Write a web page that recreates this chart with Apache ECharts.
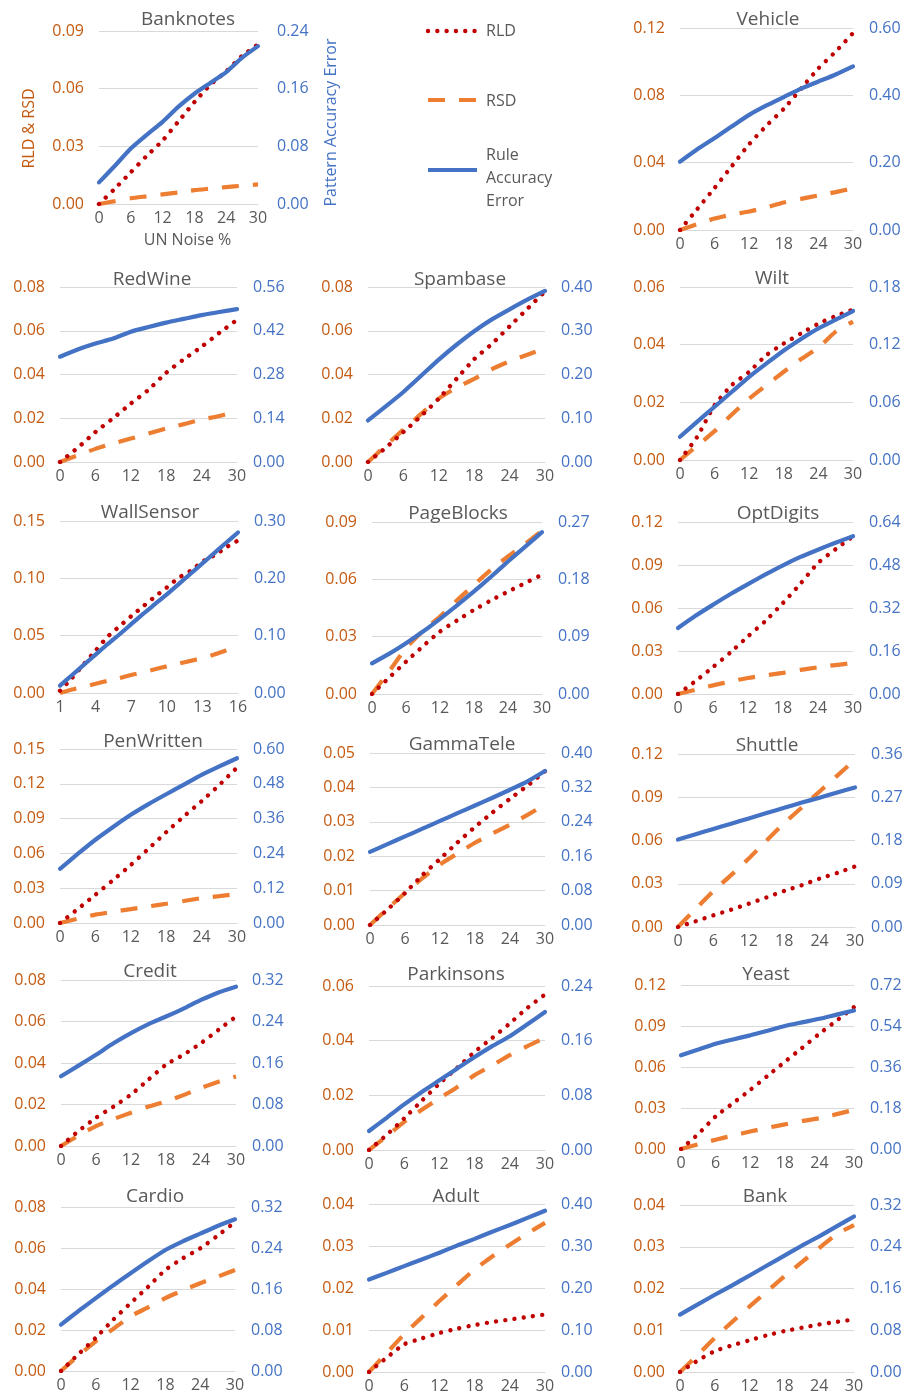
<!DOCTYPE html>
<html><head><meta charset="utf-8">
<script src="https://cdn.jsdelivr.net/npm/echarts@6/dist/echarts.min.js"></script>
<style>html,body{margin:0;padding:0;background:#fff}#c{width:908px;height:1396px}</style>
</head><body><div id="c"></div><script>
// ---------- DATA ----------
const X30 = [0,3,6,9,12,15,18,21,24,27,30];
const X16 = [1,2,3,4,5,6,7,8,9,10,11,12,13,14,15,16];
const names = ['Banknotes','Vehicle','RedWine','Spambase','Wilt','WallSensor','PageBlocks','OptDigits','PenWritten','GammaTele','Shuttle','Credit','Parkinsons','Yeast','Cardio','Adult','Bank'];
const leftMax  = [0.09,0.12,0.08,0.08,0.06,0.15,0.09,0.12,0.15,0.05,0.12,0.08,0.06,0.12,0.08,0.04,0.04];
const leftStep = [0.03,0.04,0.02,0.02,0.02,0.05,0.03,0.03,0.03,0.01,0.03,0.02,0.02,0.03,0.02,0.01,0.01];
const rightMax  = [0.24,0.60,0.56,0.40,0.18,0.30,0.27,0.64,0.60,0.40,0.36,0.32,0.24,0.72,0.32,0.40,0.32];
const rightStep = [0.08,0.20,0.14,0.10,0.06,0.10,0.09,0.16,0.12,0.08,0.09,0.08,0.08,0.18,0.08,0.10,0.08];

const BanknotesRLD = [0,0.008,0.0165,0.025,0.033,0.043,0.053,0.062,0.069,0.077,0.083];
const BanknotesRSD = [0,0.0015,0.003,0.004,0.005,0.006,0.0072,0.008,0.0088,0.0095,0.0102];
const BanknotesRAE = [0.030,0.053,0.077,0.096,0.114,0.135,0.153,0.168,0.183,0.203,0.219];

const VehicleRLD = [0,0.0125,0.025,0.038,0.051,0.062,0.072,0.084,0.096,0.106,0.117];
const VehicleRSD = [0,0.0035,0.0068,0.0092,0.011,0.0135,0.0163,0.0185,0.0205,0.0225,0.0248];
const VehicleRAE = [0.203,0.240,0.273,0.308,0.342,0.370,0.395,0.420,0.441,0.462,0.486];

const RedWineRLD = [0,0.0065,0.0137,0.020,0.0267,0.033,0.0408,0.047,0.0527,0.059,0.065];
const RedWineRSD = [0,0.003,0.006,0.0085,0.0107,0.013,0.0153,0.0173,0.0194,0.021,0.0232];
const RedWineRAE = [0.337,0.360,0.379,0.395,0.417,0.432,0.446,0.458,0.470,0.480,0.489];

const SpambaseRLD = [0,0.0065,0.0137,0.021,0.029,0.038,0.047,0.054,0.062,0.070,0.078];
const SpambaseRSD = [0,0.0075,0.0148,0.022,0.029,0.034,0.038,0.0425,0.046,0.049,0.052];
const SpambaseRAE = [0.095,0.127,0.160,0.197,0.234,0.268,0.299,0.326,0.349,0.371,0.391];

const WiltRLD = [0,0.0081,0.019,0.026,0.0306,0.0364,0.0404,0.0439,0.0473,0.0499,0.0522];
const WiltRSD = [0,0.005,0.010,0.0158,0.0213,0.026,0.0306,0.035,0.039,0.0445,0.048];
const WiltRAE = [0.0242,0.040,0.0554,0.071,0.0866,0.1005,0.114,0.126,0.137,0.146,0.155];

const WallSensorRLD = [0.002,0.013,0.025,0.037,0.049,0.058,0.067,0.0755,0.084,0.092,0.1005,0.1065,0.1145,0.120,0.127,0.133];
const WallSensorRSD = [0,0.003,0.0055,0.008,0.0107,0.013,0.0157,0.018,0.0207,0.0232,0.0257,0.028,0.0305,0.0335,0.037,0.0405];
const WallSensorRAE = [0.013,0.031,0.049,0.067,0.085,0.102,0.120,0.138,0.155,0.172,0.190,0.208,0.226,0.244,0.262,0.280];

const PageBlocksRLD = [0,0.0085,0.0169,0.025,0.0327,0.0385,0.044,0.049,0.0536,0.058,0.0624];
const PageBlocksRSD = [0,0.0117,0.024,0.033,0.0405,0.049,0.0571,0.065,0.072,0.0785,0.0854];
const PageBlocksRAE = [0.0482,0.063,0.0797,0.098,0.118,0.139,0.161,0.184,0.208,0.231,0.254];

const OptDigitsRLD = [0,0.009,0.0188,0.029,0.0402,0.051,0.0635,0.077,0.0914,0.101,0.110];
const OptDigitsRSD = [0,0.003,0.006,0.0088,0.0112,0.013,0.0147,0.0168,0.0186,0.0202,0.0216];
const OptDigitsRAE = [0.2456,0.291,0.332,0.372,0.409,0.445,0.479,0.510,0.537,0.563,0.587];

const PenWrittenRLD = [0,0.012,0.0244,0.037,0.050,0.064,0.0783,0.092,0.105,0.119,0.134];
const PenWrittenRSD = [0,0.0037,0.0072,0.0097,0.012,0.0143,0.0166,0.019,0.0215,0.0232,0.025];
const PenWrittenRAE = [0.187,0.238,0.287,0.331,0.373,0.410,0.444,0.477,0.5105,0.540,0.568];

const GammaTeleRLD = [0,0.0045,0.0093,0.0145,0.0192,0.024,0.0285,0.0327,0.0367,0.0405,0.0447];
const GammaTeleRSD = [0,0.0047,0.0093,0.0136,0.0176,0.0208,0.0239,0.0266,0.0292,0.032,0.035];
const GammaTeleRAE = [0.170,0.188,0.206,0.224,0.242,0.260,0.278,0.296,0.3145,0.334,0.358];

const ShuttleRLD = [0,0.004,0.0081,0.012,0.0162,0.0205,0.025,0.029,0.0336,0.0375,0.042];
const ShuttleRSD = [0,0.0125,0.025,0.036,0.0475,0.060,0.072,0.083,0.094,0.105,0.116];
const ShuttleRAE = [0.182,0.193,0.204,0.215,0.226,0.237,0.248,0.259,0.269,0.280,0.2905];

const CreditRLD = [0,0.0072,0.0136,0.019,0.0248,0.032,0.0392,0.044,0.0496,0.056,0.0624];
const CreditRSD = [0,0.005,0.0096,0.013,0.016,0.019,0.0215,0.0245,0.028,0.031,0.0335];
const CreditRAE = [0.1344,0.155,0.176,0.198,0.2176,0.235,0.2496,0.265,0.2816,0.296,0.307];

const ParkinsonsRLD = [0,0.0055,0.0116,0.018,0.0243,0.030,0.0359,0.041,0.0463,0.052,0.0569];
const ParkinsonsRSD = [0,0.005,0.0103,0.0147,0.0189,0.023,0.0274,0.031,0.0347,0.038,0.041];
const ParkinsonsRAE = [0.0278,0.047,0.0667,0.085,0.102,0.119,0.136,0.152,0.1665,0.184,0.202];

const YeastRLD = [0,0.011,0.0238,0.0335,0.0432,0.0535,0.0638,0.074,0.0844,0.094,0.1038];
const YeastRSD = [0,0.0035,0.0068,0.0098,0.0128,0.0155,0.018,0.0205,0.0225,0.0255,0.0286];
const YeastRAE = [0.4116,0.437,0.4625,0.481,0.499,0.519,0.5397,0.556,0.5716,0.590,0.608];

const CardioRLD = [0,0.0082,0.0162,0.025,0.0331,0.041,0.0493,0.055,0.0598,0.066,0.0727];
const CardioRSD = [0,0.0075,0.0145,0.0205,0.0267,0.031,0.0356,0.0393,0.0428,0.046,0.0493];
const CardioRAE = [0.0905,0.117,0.1422,0.167,0.1907,0.214,0.236,0.253,0.268,0.283,0.296];

const AdultRLD = [0,0.0034,0.0066,0.008,0.0093,0.0103,0.0112,0.0119,0.0125,0.0131,0.0137];
const AdultRSD = [0,0.0045,0.009,0.013,0.0169,0.0207,0.0244,0.0275,0.0303,0.033,0.0355];
const AdultRAE = [0.2202,0.236,0.252,0.268,0.284,0.301,0.317,0.334,0.350,0.367,0.384];

const BankRLD = [0,0.0027,0.005,0.0064,0.0076,0.0088,0.0098,0.0106,0.0114,0.012,0.0126];
const BankRSD = [0,0.004,0.0082,0.012,0.0157,0.0193,0.0229,0.0263,0.0297,0.033,0.0352];
const BankRAE = [0.110,0.129,0.148,0.166,0.185,0.204,0.223,0.242,0.260,0.279,0.298];

const rldSets = [BanknotesRLD,VehicleRLD,RedWineRLD,SpambaseRLD,WiltRLD,WallSensorRLD,PageBlocksRLD,OptDigitsRLD,PenWrittenRLD,GammaTeleRLD,ShuttleRLD,CreditRLD,ParkinsonsRLD,YeastRLD,CardioRLD,AdultRLD,BankRLD];
const rsdSets = [BanknotesRSD,VehicleRSD,RedWineRSD,SpambaseRSD,WiltRSD,WallSensorRSD,PageBlocksRSD,OptDigitsRSD,PenWrittenRSD,GammaTeleRSD,ShuttleRSD,CreditRSD,ParkinsonsRSD,YeastRSD,CardioRSD,AdultRSD,BankRSD];
const raeSets = [BanknotesRAE,VehicleRAE,RedWineRAE,SpambaseRAE,WiltRAE,WallSensorRAE,PageBlocksRAE,OptDigitsRAE,PenWrittenRAE,GammaTeleRAE,ShuttleRAE,CreditRAE,ParkinsonsRAE,YeastRAE,CardioRAE,AdultRAE,BankRAE];

// ---------- LAYOUT ----------
const boxes = [
 [99,31,258,204],[680,28,853,230],
 [60,287,237,462],[368,287,545,462],[680,287,853,460],
 [60,521,238,693],[372,522,542,694],[678,522,853,694],
 [60,749,237,923],[370,753,545,925],[678,754,855,927],
 [61,980,236,1146],[369,986,545,1150],[681,985,854,1149],
 [61,1207,235,1371],[369,1204,545,1372],[680,1205,854,1372]];
const titleX = [188,768,152,460,772,150,458,778,153,462,767,150,456,766,155,456,765];
const titleY = [18,18,278,278,277,511,512,512,740,743,744,970,973,973,1195,1195,1195];

const FONT = '"Open Sans", "Liberation Sans", sans-serif';
const C_RLD = '#C00000', C_RSD = '#ED7D31', C_RAE = '#4472C4';
const C_LEFT = '#C55A11', C_GRAY = '#595959', C_GRID = '#D9D9D9';
const TICK = 16;

const grids = [], xAxes = [], yAxes = [], series = [], titles = [];
names.forEach((nm, i) => {
  const b = boxes[i];
  grids.push({left: b[0], top: b[1], width: b[2]-b[0], height: b[3]-b[1]});
  const wall = nm === 'WallSensor';
  const xs = wall ? X16 : X30;
  titles.push({text: nm, left: titleX[i], top: titleY[i]-8, textAlign: 'center', padding: 0,
    textStyle: {fontSize: 19, fontWeight: 'normal', color: C_GRAY, fontFamily: FONT}});
  const xa = {gridIndex: i, type: 'value', min: wall ? 1 : 0, max: wall ? 16 : 30, interval: wall ? 3 : 6,
    axisLine: {show: true, onZero: false, lineStyle: {color: C_GRID, width: 1}}, axisTick: {show: false},
    splitLine: {show: false},
    axisLabel: {color: C_GRAY, fontSize: TICK, margin: 6, fontFamily: FONT}};
  if (i === 0) {
    xa.name = 'UN Noise %'; xa.nameLocation = 'middle'; xa.nameGap = 28;
    xa.nameTextStyle = {color: C_GRAY, fontSize: TICK, fontFamily: FONT, padding: [0,0,0,18]};
  }
  xAxes.push(xa);
  const ya = {gridIndex: i, type: 'value', position: 'left', min: 0, max: leftMax[i], interval: leftStep[i],
    axisLine: {show: false}, axisTick: {show: false},
    splitLine: {show: true, lineStyle: {color: C_GRID, width: 1}},
    axisLabel: {color: C_LEFT, fontSize: TICK, margin: 15, fontFamily: FONT, formatter: v => v.toFixed(2)}};
  const yb = {gridIndex: i, type: 'value', position: 'right', min: 0, max: rightMax[i], interval: rightStep[i],
    axisLine: {show: false}, axisTick: {show: false}, splitLine: {show: false},
    axisLabel: {color: C_RAE, fontSize: TICK, margin: i === 0 ? 19 : 16, fontFamily: FONT, formatter: v => v.toFixed(2)}};
  if (i === 0) {
    ya.name = 'RLD & RSD'; ya.nameLocation = 'middle'; ya.nameGap = 62;
    ya.nameTextStyle = {color: C_LEFT, fontSize: TICK, fontFamily: FONT, padding: [0,22,0,0]};
    yb.name = 'Pattern Accuracy Error'; yb.nameLocation = 'middle'; yb.nameGap = 65;
    yb.nameTextStyle = {color: C_RAE, fontSize: 16, fontFamily: FONT, padding: [0,10,0,0]};
  }
  yAxes.push(ya, yb);
  const pts = arr => xs.map((x, k) => [x, arr[k]]);
  series.push({name: 'RLD', type: 'line', xAxisIndex: i, yAxisIndex: 2*i, data: pts(rldSets[i]),
    symbol: 'none', smooth: 0.2, z: 3, silent: true,
    lineStyle: {color: C_RLD, width: 4.4, type: [0.01, 9.3], cap: 'round'}});
  series.push({name: 'RSD', type: 'line', xAxisIndex: i, yAxisIndex: 2*i, data: pts(rsdSets[i]),
    symbol: 'none', smooth: 0.2, z: 2, silent: true,
    lineStyle: {color: C_RSD, width: 4.2, type: [17, 14], cap: 'butt'}});
  series.push({name: 'Rule Accuracy Error', type: 'line', xAxisIndex: i, yAxisIndex: 2*i+1, data: pts(raeSets[i]),
    symbol: 'none', smooth: 0.2, z: 4, silent: true,
    lineStyle: {color: C_RAE, width: 4.2, type: 'solid', cap: 'round'}});
});

const legendText = (txt, y) => ({type: 'text', x: 486, y: y,
  style: {text: txt, fill: C_GRAY, font: '16px ' + FONT, fontSize: 16, fontFamily: FONT, verticalAlign: 'middle', textVerticalAlign: 'middle'}});
const graphic = [
  {type: 'line', shape: {x1: 428, y1: 31, x2: 477, y2: 31}, style: {stroke: C_RLD, lineWidth: 4.4, lineDash: [0.01, 9.3], lineCap: 'round'}},
  {type: 'line', shape: {x1: 428, y1: 100, x2: 477, y2: 100}, style: {stroke: C_RSD, lineWidth: 4.2, lineDash: [17, 14], lineCap: 'butt'}},
  {type: 'line', shape: {x1: 428, y1: 170, x2: 477, y2: 170}, style: {stroke: C_RAE, lineWidth: 4.2, lineCap: 'butt'}},
  legendText('RLD', 31), legendText('RSD', 101),
  legendText('Rule', 155), legendText('Accuracy', 178), legendText('Error', 201)
];

const chart = echarts.init(document.getElementById('c'), null, {renderer: 'canvas'});
chart.setOption({
  animation: false, backgroundColor: '#ffffff',
  title: titles, grid: grids, xAxis: xAxes, yAxis: yAxes, series: series, graphic: graphic
});
</script></body></html>
